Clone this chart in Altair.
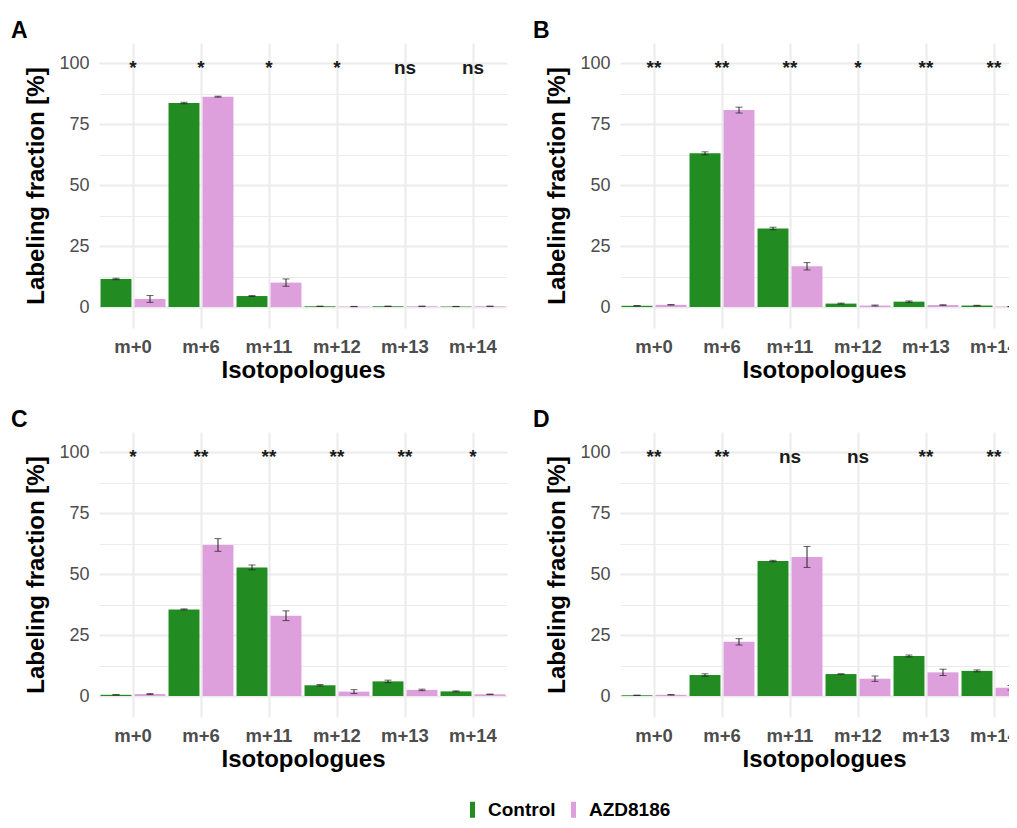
import altair as alt
import pandas as pd

FONT = "Liberation Sans"
isotopologues = ["m+0", "m+6", "m+11", "m+12", "m+13", "m+14"]
groups = ["Control", "AZD8186"]
colors = ["#228B22", "#DDA0DD"]

# Panel A
a_ctrl = [11.5, 83.6, 4.5, 0.3, 0.3, 0.2]
a_ctrl_err = [0.3, 0.3, 0.2, 0.05, 0.05, 0.05]
a_azd = [3.3, 86.2, 10.0, 0.2, 0.3, 0.3]
a_azd_err = [1.4, 0.2, 1.5, 0.05, 0.05, 0.05]
a_sig = ["*", "*", "*", "*", "ns", "ns"]

# Panel B
b_ctrl = [0.5, 63.0, 32.2, 1.4, 2.2, 0.6]
b_ctrl_err = [0.1, 0.6, 0.5, 0.2, 0.3, 0.1]
b_azd = [0.9, 80.7, 16.7, 0.6, 0.8, 0.2]
b_azd_err = [0.1, 1.2, 1.5, 0.2, 0.1, 0.05]
b_sig = ["**", "**", "**", "*", "**", "**"]

# Panel C
c_ctrl = [0.5, 35.5, 52.7, 4.4, 6.0, 1.9]
c_ctrl_err = [0.05, 0.2, 1.0, 0.3, 0.5, 0.2]
c_azd = [0.8, 61.9, 32.9, 1.8, 2.5, 0.7]
c_azd_err = [0.2, 2.6, 2.0, 0.8, 0.3, 0.1]
c_sig = ["*", "**", "**", "**", "**", "*"]

# Panel D
d_ctrl = [0.3, 8.6, 55.3, 9.0, 16.4, 10.3]
d_ctrl_err = [0.05, 0.5, 0.3, 0.1, 0.4, 0.4]
d_azd = [0.5, 22.2, 57.0, 7.1, 9.7, 3.4]
d_azd_err = [0.1, 1.3, 4.3, 1.1, 1.3, 0.9]
d_sig = ["**", "**", "ns", "ns", "**", "**"]

y_ticks = [0, 12.5, 25, 37.5, 50, 62.5, 75, 87.5, 100]
Y_DOMAIN = [-8.6, 108.2]


def make_panel(letter, ctrl, ctrl_err, azd, azd_err, sig, dx):
    rows = []
    for i, iso in enumerate(isotopologues):
        for g, v, e in ((groups[0], ctrl[i], ctrl_err[i]), (groups[1], azd[i], azd_err[i])):
            rows.append({"iso": iso, "group": g, "value": v, "lo": v - e, "hi": v + e})
    df = pd.DataFrame(rows)
    sig_df = pd.DataFrame({"iso": isotopologues, "label": sig, "ypos": [100] * len(sig)})

    x_scale = alt.Scale(domain=isotopologues, paddingInner=0, paddingOuter=0)
    x_axis = alt.Axis(
        title="Isotopologues", labelFont=FONT, labelFontSize=18.5, labelFontWeight="bold",
        labelColor="#4D4D4D", labelAngle=0, labelPadding=9, titleFont=FONT, titleFontSize=24,
        titleFontWeight="bold", titleColor="black", titlePadding=3, domain=False, ticks=False,
        grid=True, gridColor="#EBEBEB", gridWidth=2, bandPosition=0.5,
    )
    y_scale = alt.Scale(domain=Y_DOMAIN, nice=False, zero=False)
    y_axis = alt.Axis(
        title="Labeling fraction [%]", values=y_ticks,
        labelExpr="datum.value % 25 === 0 ? datum.label : ''",
        labelFont=FONT, labelFontSize=18, labelColor="#4D4D4D", labelPadding=10,
        titleFont=FONT, titleFontSize=24, titleFontWeight="bold", titleColor="black",
        titlePadding=10, domain=False, ticks=False, grid=True, gridColor="#EBEBEB",
        gridWidth={"condition": {"test": "datum.value % 25 === 0", "value": 2}, "value": 1},
    )
    x_enc = alt.X("iso:N", sort=isotopologues, scale=x_scale, axis=x_axis)
    xo_enc = alt.XOffset("group:N", sort=groups,
                         scale=alt.Scale(domain=groups, paddingInner=0.09, paddingOuter=0.045))

    base = alt.Chart(df)
    bars = base.mark_bar().encode(
        x=x_enc, xOffset=xo_enc,
        y=alt.Y("value:Q", scale=y_scale, axis=y_axis, stack=None),
        color=alt.Color("group:N", sort=groups,
                        scale=alt.Scale(domain=groups, range=colors), title=None),
    )
    rule = base.mark_rule(color="#222222", strokeWidth=1).encode(
        x=x_enc, xOffset=xo_enc,
        y=alt.Y("lo:Q", scale=y_scale, axis=y_axis), y2="hi:Q",
    )
    tick_lo = base.mark_tick(color="#222222", size=7, thickness=1).encode(
        x=x_enc, xOffset=xo_enc, y=alt.Y("lo:Q", scale=y_scale, axis=y_axis),
    )
    tick_hi = base.mark_tick(color="#222222", size=7, thickness=1).encode(
        x=x_enc, xOffset=xo_enc, y=alt.Y("hi:Q", scale=y_scale, axis=y_axis),
    )
    text = alt.Chart(sig_df).mark_text(
        font=FONT, fontSize=19, fontWeight="bold", baseline="alphabetic", dy=11, color="#1A1A1A"
    ).encode(
        x=x_enc, y=alt.Y("ypos:Q", scale=y_scale, axis=y_axis), text="label:N",
    )
    return alt.layer(bars, rule, tick_lo, tick_hi, text).properties(
        width=408, height=285,
        title=alt.TitleParams(text=letter, anchor="start", frame="group", dx=dx, offset=0,
                              font=FONT, fontSize=23, fontWeight="bold", color="black"),
    )


pA = make_panel("A", a_ctrl, a_ctrl_err, a_azd, a_azd_err, a_sig, -88)
pB = make_panel("B", b_ctrl, b_ctrl_err, b_azd, b_azd_err, b_sig, -87)
pC = make_panel("C", c_ctrl, c_ctrl_err, c_azd, c_azd_err, c_sig, -88)
pD = make_panel("D", d_ctrl, d_ctrl_err, d_azd, d_azd_err, d_sig, -87)

row1 = alt.hconcat(pA, pB, spacing=26)
row2 = alt.hconcat(pC, pD, spacing=26)
chart = alt.vconcat(row1, row2, spacing=26).properties(
    autosize=alt.AutoSizeParams(type="none"),
    padding={"left": 91, "top": 35, "right": 910, "bottom": 777},
    background="white",
).configure_view(stroke=None).configure_legend(
    orient="none", legendX=364, legendY=757, direction="horizontal",
    labelFont=FONT, labelFontSize=19, labelFontWeight="bold", labelColor="black",
    symbolType="M-0.31,-1H0.31V1H-0.31Z", symbolSize=256, symbolStrokeWidth=0,
    symbolOpacity=1, labelOffset=6, columnPadding=8,
)

chart.save("out.html", embed_options={"renderer": "svg", "actions": False})
